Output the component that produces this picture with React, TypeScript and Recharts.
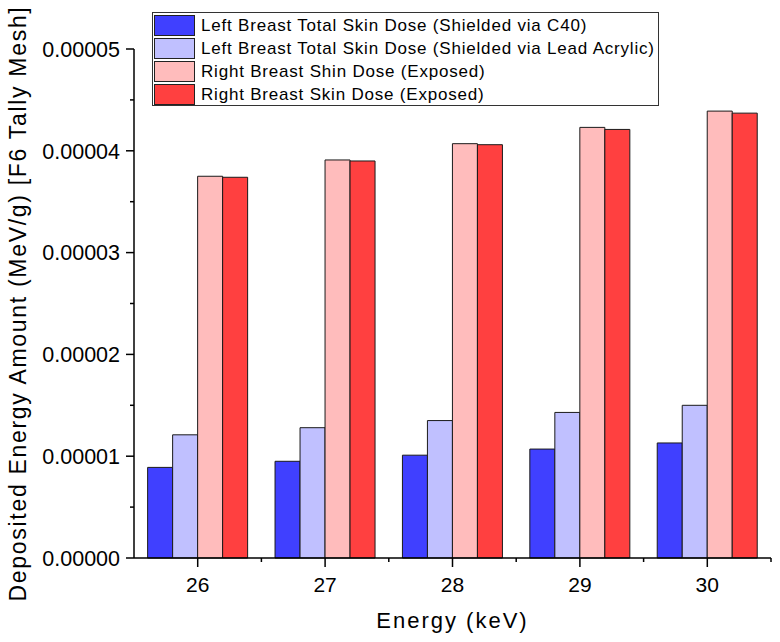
import { BarChart, Bar, XAxis, YAxis, Label } from 'recharts'

const energies = ['26', '27', '28', '29', '30']
const shieldedC40 = [0.0000089, 0.0000095, 0.0000101, 0.0000107, 0.0000113]
const shieldedLeadAcrylic = [0.0000121, 0.0000128, 0.0000135, 0.0000143, 0.000015]
const rightShinExposed = [0.0000375, 0.0000391, 0.0000407, 0.0000423, 0.0000439]
const rightSkinExposed = [0.0000374, 0.000039, 0.0000406, 0.0000421, 0.0000437]

const seriesKeys = ['c40', 'lead', 'shin', 'skin']
const seriesNames = [
  'Left Breast Total Skin Dose (Shielded via C40)',
  'Left Breast Total Skin Dose (Shielded via Lead Acrylic)',
  'Right Breast Shin Dose (Exposed)',
  'Right Breast Skin Dose (Exposed)',
]
const seriesColors = ['#4040ff', '#c0c0ff', '#ffbcbc', '#ff4040']

const yTicks = [0, 0.000005, 0.00001, 0.000015, 0.00002, 0.000025, 0.00003, 0.000035, 0.00004, 0.000045, 0.00005]

const FONT = '"Liberation Sans", Arial, sans-serif'

const data = energies.map((energy, i) => ({
  energy,
  c40: shieldedC40[i],
  lead: shieldedLeadAcrylic[i],
  shin: rightShinExposed[i],
  skin: rightSkinExposed[i],
}))

function XTick(props: any) {
  const { x, y, payload, width, visibleTicksCount } = props
  // minor tick at the band boundary to the right of each category
  const half = width / visibleTicksCount / 2
  return (
    <g>
      <line x1={x} y1={y} x2={x} y2={y + 9} stroke="#000" strokeWidth={1.5} />
      <line x1={x + half} y1={y} x2={x + half} y2={y + 4} stroke="#000" strokeWidth={1.5} />
      <text x={x} y={y + 34} textAnchor="middle" fontSize={21} fontFamily={FONT} fill="#000">
        {payload.value}
      </text>
    </g>
  )
}

function YTick(props: any) {
  const { x, y, payload } = props
  const major = Math.round(payload.value / 0.000005) % 2 === 0
  return (
    <g>
      <line x1={x - (major ? 8 : 4)} y1={y} x2={x} y2={y} stroke="#000" strokeWidth={1.5} />
      {major && (
        <text x={x - 14} y={y} dy="0.36em" textAnchor="end" fontSize={21.5} fontFamily={FONT} fill="#000">
          {payload.value.toFixed(5)}
        </text>
      )}
    </g>
  )
}

function LegendBox() {
  return (
    <div
      style={{
        position: 'absolute',
        left: 152,
        top: 12,
        width: 503,
        height: 90,
        border: '1.5px solid #333',
        background: '#fff',
        padding: '1px 1px',
        fontFamily: FONT,
        fontSize: 17,
        letterSpacing: 0.8,
        color: '#000',
      }}
    >
      {seriesNames.map((name, i) => (
        <div key={name} style={{ display: 'flex', alignItems: 'center', height: 23 }}>
          <div
            style={{
              width: 39,
              height: 19,
              background: seriesColors[i],
              border: '1px solid #222',
              marginRight: 6,
              flexShrink: 0,
            }}
          />
          <span style={{ whiteSpace: 'nowrap' }}>{name}</span>
        </div>
      ))}
    </div>
  )
}

export default function App() {
  return (
    <div style={{ position: 'fixed', left: 0, top: 0, width: 780, height: 642, background: '#fff' }}>
      <BarChart
        width={780}
        height={642}
        data={data}
        margin={{ top: 49, right: 9, bottom: 4, left: 0 }}
        barCategoryGap="10.7%"
        barGap={0}
      >
        <XAxis
          dataKey="energy"
          height={80}
          interval={0}
          tickSize={0}
          tickMargin={0}
          tickLine={false}
          axisLine={{ stroke: '#000', strokeWidth: 1.5 }}
          tick={<XTick />}
        >
          <Label
            value="Energy (keV)"
            position="insideBottom"
            offset={10}
            style={{ fontSize: 22, letterSpacing: 2, fontFamily: FONT, fill: '#000' }}
          />
        </XAxis>
        <YAxis
          type="number"
          width={134}
          domain={[0, 0.00005]}
          ticks={yTicks}
          interval={0}
          tickSize={0}
          tickMargin={0}
          tickLine={false}
          axisLine={{ stroke: '#000', strokeWidth: 1.5 }}
          tick={<YTick />}
        >
          <Label
            value="Deposited Energy Amount (MeV/g) [F6 Tally Mesh]"
            angle={-90}
            position="insideLeft"
            offset={21}
            dx={-3}
            style={{ fontSize: 23, letterSpacing: 1.7, fontFamily: FONT, fill: '#000', textAnchor: 'middle' }}
          />
        </YAxis>
        {seriesKeys.map((key, i) => (
          <Bar
            key={key}
            dataKey={key}
            name={seriesNames[i]}
            fill={seriesColors[i]}
            stroke="#1a1a1a"
            strokeWidth={1}
            isAnimationActive={false}
          />
        ))}
      </BarChart>
      <LegendBox />
    </div>
  )
}
